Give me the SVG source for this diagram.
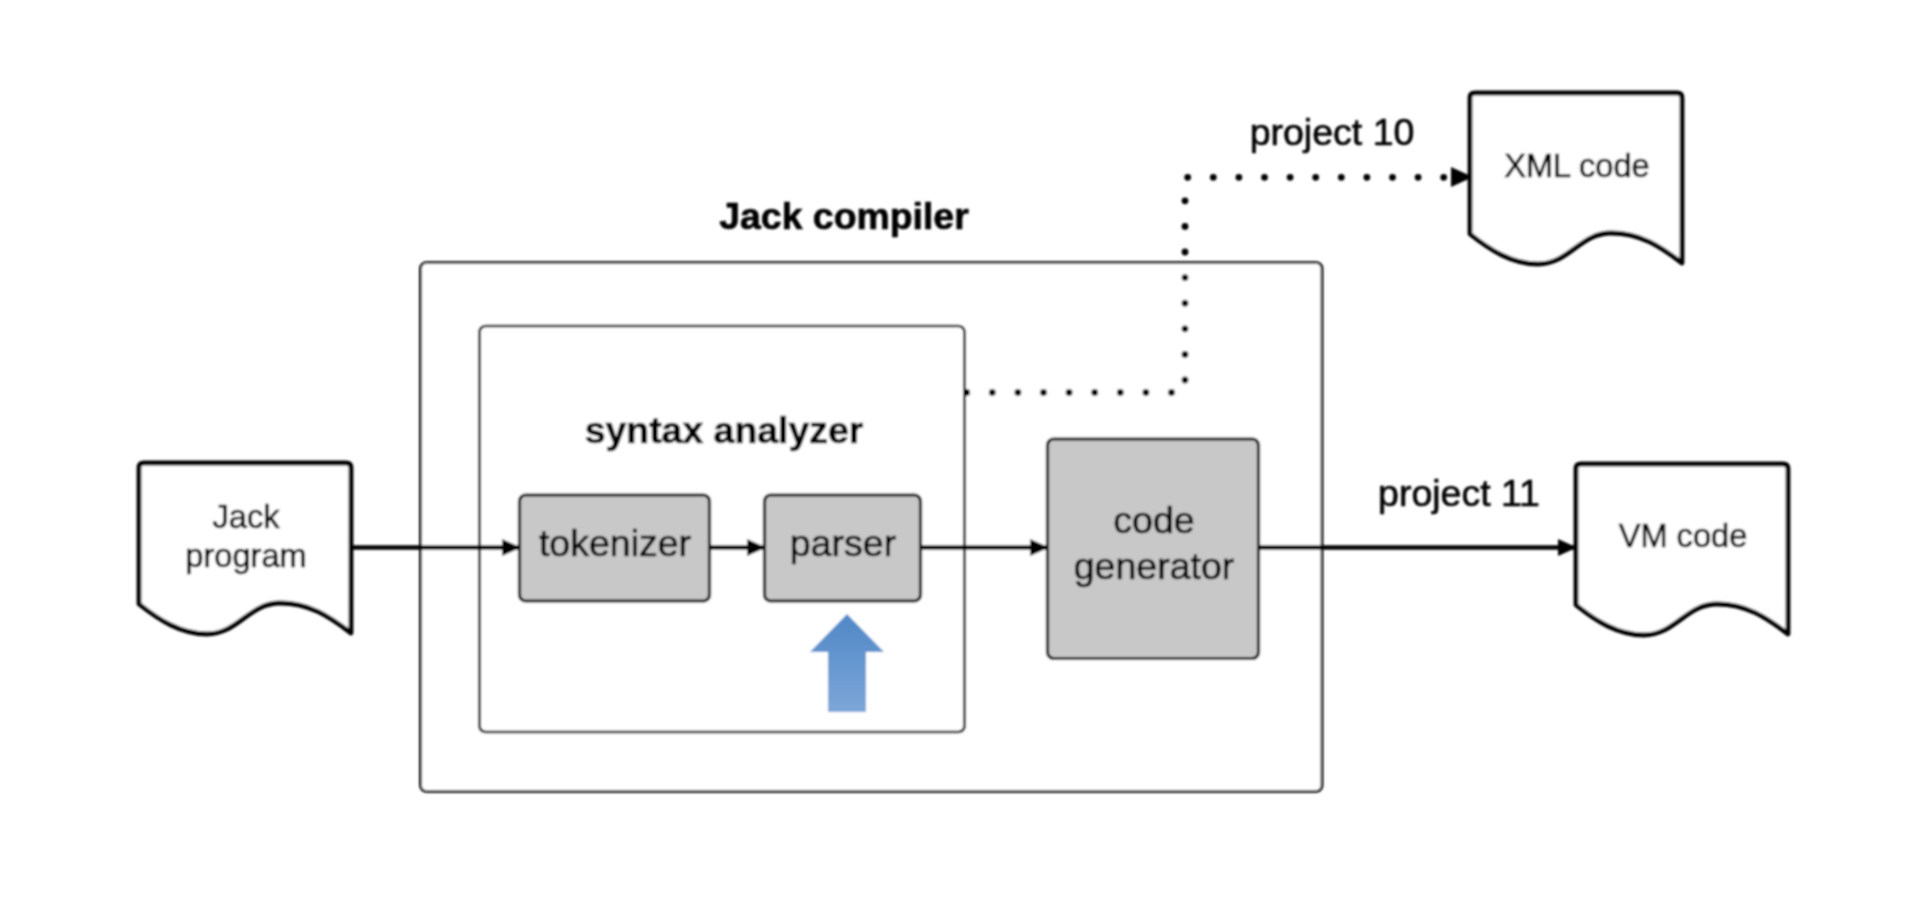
<svg xmlns="http://www.w3.org/2000/svg" width="1912" height="914" viewBox="0 0 1912 914">
<style>
text{font-family:"Liberation Sans",Arial,sans-serif;fill:#000;stroke:#000;stroke-width:.65;text-anchor:middle}
.big{font-size:37.5px}.small{font-size:32.6px}.bold{font-size:37.4px;font-weight:bold}
.frame{fill:#fff;stroke:#000;stroke-width:2.7}
.box{fill:#c8c8c8;stroke:#111;stroke-width:3.2}
.doc{fill:#fff;stroke:#000;stroke-width:4.8;stroke-linejoin:round}
.line{fill:none;stroke:#000;stroke-width:4.6;marker-end:url(#head)}
.dots{fill:none;stroke:#000;stroke-width:6.8;stroke-linecap:round;stroke-dasharray:0 25.6}
</style>
<defs>
<marker id="head" markerUnits="userSpaceOnUse" markerWidth="19" markerHeight="17" refX="18" refY="8.5" orient="auto"><path d="M0 0L19 8.5L0 17z" fill="#000"/></marker>
<linearGradient id="blue" x1="0" y1="0" x2="0" y2="1"><stop offset="0" stop-color="#4f88c6"/><stop offset="1" stop-color="#7ea6d8"/></linearGradient>
<path id="docshape" class="doc" d="M0 141V5Q0 0 5 0H207Q212 0 212 5V170C190 153 170 140 141 140C110 140 99 171 68 171C42 171 20 157 0 141Z"/>
<filter id="soft" filterUnits="userSpaceOnUse" x="0" y="0" width="1912" height="914"><feGaussianBlur stdDeviation="0.8"/></filter>
</defs>
<rect width="1912" height="914" fill="#fff"/>
<g filter="url(#soft)">
<g id="jack-compiler"><rect class="frame" x="420.5" y="262.5" width="901.5" height="529" rx="6"/><text class="bold" x="844" y="229">Jack compiler</text></g>
<g id="syntax-analyzer"><rect class="frame" x="479.5" y="326" width="485" height="406" rx="6"/><text class="bold" x="724" y="443">syntax analyzer</text></g>
<g id="connectors">
<path class="line" d="M351 547.5H520"/>
<path class="line" d="M710 547.5H765"/>
<path class="line" d="M921 547.5H1048"/>
<path class="line" d="M1258 547.5H1576"/>
<path class="dots" d="M966.7 392.5H1175"/>
<path class="dots" d="M1185 380V198"/>
<path class="dots" d="M1187.7 177.3H1448"/>
<path d="M1451 167L1473 177L1451 187z" fill="#000"/>
</g>
<g id="jack-program"><use href="#docshape" transform="translate(139 463)"/><text class="small" x="246" y="528">Jack</text><text class="small" x="246" y="567">program</text></g>
<g id="tokenizer"><rect class="box" x="519.5" y="495" width="190" height="106" rx="6"/><text class="big" x="615" y="556">tokenizer</text></g>
<g id="parser"><rect class="box" x="764.5" y="495" width="156" height="106" rx="6"/><text class="big" x="843" y="556">parser</text></g>
<g id="code-generator"><rect class="box" x="1047.5" y="439" width="211" height="219.5" rx="6"/><text class="big" x="1154" y="533">code</text><text class="big" x="1154" y="579">generator</text></g>
<g id="xml-code"><use href="#docshape" transform="translate(1470 93)"/><text class="small" x="1577" y="177">XML code</text></g>
<g id="vm-code"><use href="#docshape" transform="translate(1576 464)"/><text class="small" x="1683" y="547">VM code</text></g>
<g id="project-10"><text class="big" x="1332" y="145">project 10</text></g>
<g id="project-11"><text class="big" x="1459" y="506">project 11</text></g>
<g id="up-arrow"><path d="M847 614L884 652H866V712H828V652H810Z" fill="url(#blue)"/></g>
</g>
</svg>
